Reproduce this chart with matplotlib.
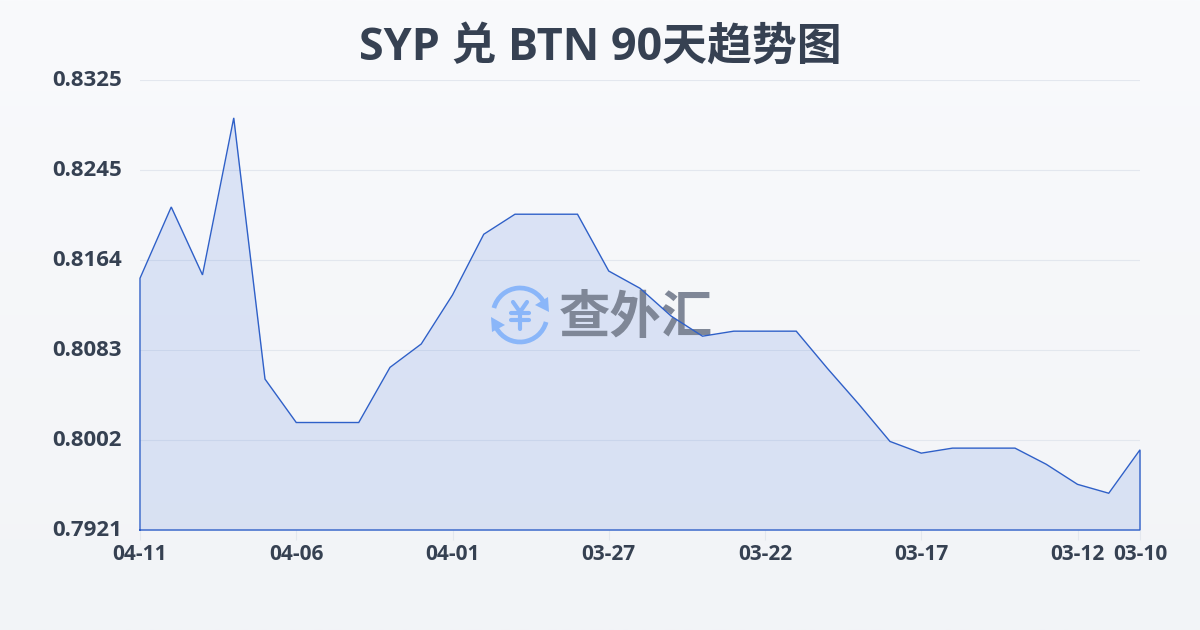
import numpy as np
import matplotlib
matplotlib.use("Agg")
import matplotlib.pyplot as plt
from matplotlib.patches import Arc, Polygon
from matplotlib.transforms import Affine2D, ScaledTranslation

plt.rcParams["font.family"] = ["Open Sans", "Noto Sans CJK SC", "DejaVu Sans"]

TITLE = "SYP 兑 BTN 90天趋势图"
WATERMARK = "查外汇"

# 33 daily points, newest first
rates = [0.8147, 0.8211, 0.8150, 0.8291, 0.80565, 0.80175, 0.80175, 0.80175,
         0.8067, 0.8088, 0.8132, 0.81865, 0.82045, 0.82045, 0.82045, 0.81535,
         0.8138, 0.8113, 0.8095, 0.80995, 0.80995, 0.80995, 0.8066, 0.8034,
         0.80005, 0.7990, 0.79945, 0.79945, 0.79945, 0.7980, 0.7962, 0.7954,
         0.7993]
x_tick_pos = [0, 5, 10, 15, 20, 25, 30, 32]
x_tick_labels = ["04-11", "04-06", "04-01", "03-27", "03-22", "03-17", "03-12", "03-10"]
y_min, y_max = 0.7921, 0.8325
y_tick_labels = ["0.7921", "0.8002", "0.8083", "0.8164", "0.8245", "0.8325"]

LINE = "#2f60c8"
TEXT = "#364152"
GRID = "#e3e7ee"
ICON = "#8ab6f9"

fig = plt.figure(figsize=(12, 6.3), dpi=100)

# page background gradient
bg = fig.add_axes([0, 0, 1, 1], zorder=0)
bg.axis("off")
top, bottom = np.array([0xf9, 0xfa, 0xfc]), np.array([0xf2, 0xf4, 0xf7])
grad = np.linspace(0, 1, 256)[:, None, None] * (bottom - top) + top
bg.imshow(grad / 255, aspect="auto", extent=(0, 1, 0, 1))

ax = fig.add_axes([140 / 1200, 1 - 530 / 630, 1000 / 1200, 450 / 630], zorder=1)
ax.patch.set_alpha(0)
for s in ax.spines.values():
    s.set_visible(False)

x = np.arange(len(rates))
ax.set_xlim(0, len(rates) - 1)
ax.set_ylim(y_min, y_max)

ax.set_yticks(np.linspace(y_min, y_max, len(y_tick_labels)))
ax.set_yticklabels(y_tick_labels, fontsize=16, fontweight="bold", color=TEXT)
ax.set_xticks(x_tick_pos)
ax.set_xticklabels(x_tick_labels, fontsize=15, fontweight="bold", color=TEXT)
ax.tick_params(axis="y", length=0, pad=13)
ax.tick_params(axis="x", length=7, width=0.8, color=GRID, pad=3)
ax.grid(axis="y", color=GRID, linewidth=0.8, zorder=0)
ax.set_axisbelow(True)

# y labels sit a touch above their gridlines
for label in ax.get_yticklabels():
    label.set_transform(label.get_transform() + ScaledTranslation(0, 2 / 100, fig.dpi_scale_trans))

ax.fill_between(x, rates, y_min, color="#3f6fdc", alpha=0.15, linewidth=0, zorder=1)
ax.plot([0, *x, x[-1], 0], [y_min, *rates, y_min, y_min], color=LINE, linewidth=1.0,
        solid_joinstyle="miter", clip_on=False, zorder=4)

# watermark, placed in page pixels, sits between the fill and the line
px = Affine2D().scale(1 / 1200, -1 / 630).translate(0, 1) + fig.transFigure
ax.text(636, 320, WATERMARK, transform=px, ha="center", va="center", fontsize=37,
        fontweight="bold", color="#7f8797", zorder=3, clip_on=False)

for theta1, theta2 in [(195, 335), (15, 150)]:
    ax.add_patch(Arc((520, 315), 54, 54, theta1=theta1, theta2=theta2, transform=px,
                     color=ICON, linewidth=3.4, zorder=3, clip_on=False))
for tri in [[(549, 312), (548, 297), (535, 305)], [(491, 317), (505, 325), (492, 332)]]:
    ax.add_patch(Polygon(tri, closed=True, transform=px, color=ICON, linewidth=0,
                         zorder=3, clip_on=False))
for xs, ys in [([513, 520, 527], [302, 312, 302]), ([511, 529], [313, 313]),
               ([511, 529], [320, 320]), ([520, 520], [312, 329])]:
    ax.plot(xs, ys, transform=px, color=ICON, linewidth=3, solid_capstyle="round",
            zorder=3, clip_on=False)

fig.text(0.5, 1 - 48 / 630, TITLE, ha="center", va="center", fontsize=32.3,
         fontweight="bold", color=TEXT)

fig.savefig("out.png", dpi=100)
